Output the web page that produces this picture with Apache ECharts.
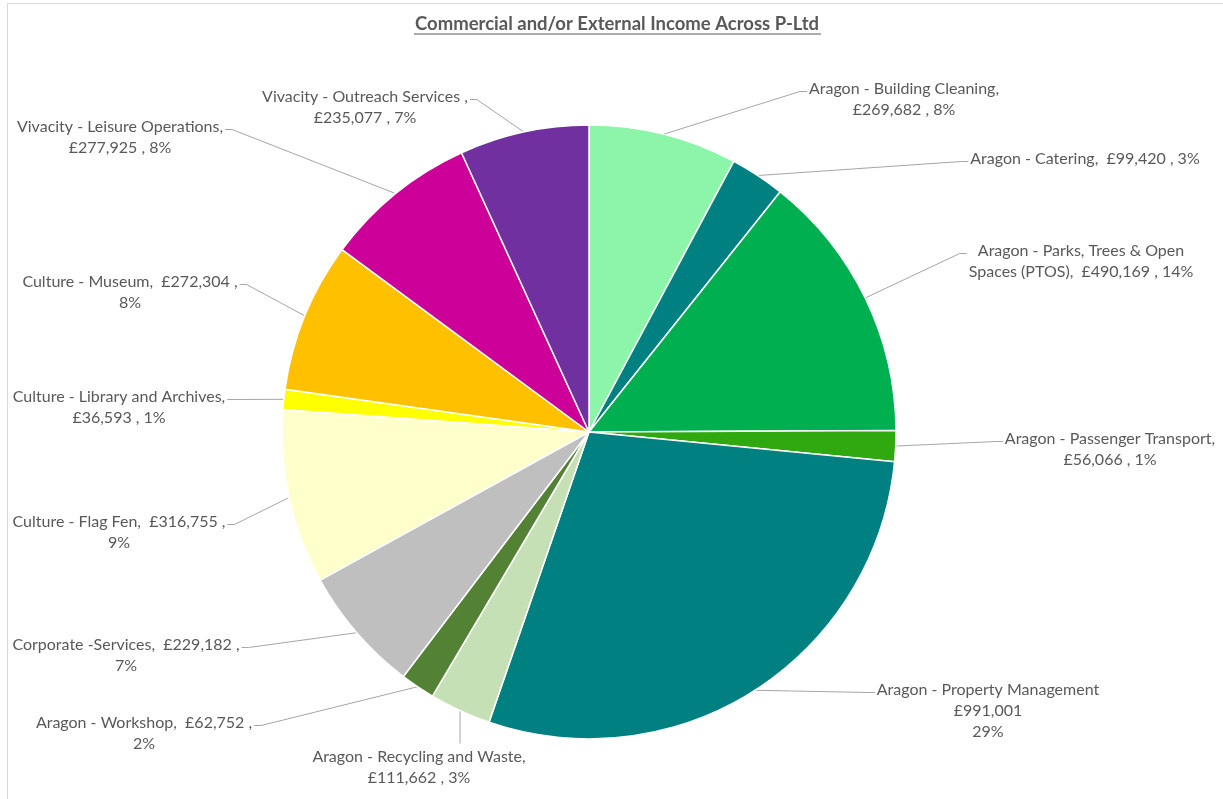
<!DOCTYPE html>
<html>
<head>
<meta charset="utf-8">
<script src="https://cdn.jsdelivr.net/npm/echarts@6/dist/echarts.min.js"></script>
<style>
html,body{margin:0;padding:0;background:#fff;}
#chart{width:1223px;height:799px;}
</style>
</head>
<body>
<div id="chart"></div>
<script>
// ---- data ----
const categories = [
  'Aragon - Building Cleaning',
  'Aragon - Catering',
  'Aragon - Parks, Trees & Open Spaces (PTOS)',
  'Aragon - Passenger Transport',
  'Aragon - Property Management',
  'Aragon - Recycling and Waste',
  'Aragon - Workshop',
  'Corporate -Services',
  'Culture - Flag Fen',
  'Culture - Library and Archives',
  'Culture - Museum',
  'Vivacity - Leisure Operations',
  'Vivacity - Outreach Services '
];
const values = [269682, 99420, 490169, 56066, 991001, 111662, 62752, 229182, 316755, 36593, 272304, 277925, 235077];
const pctLabels = [8, 3, 14, 1, 29, 3, 2, 7, 9, 1, 8, 8, 7];

// ---- styling / layout (not data) ----
const colors = ['#8DF5A9', '#008080', '#00B050', '#30A810', '#008080', '#C5E0B4', '#548235',
  '#BFBFBF', '#FFFFCC', '#FFFF00', '#FFC000', '#CC0099', '#7030A0'];
// label block: centre x, first-line centre y, side, wrap style
const labelLayoutCfg = [
  [904, 89, 'r', 'nv'],
  [1085, 159, 'r', 'one'],
  [1081, 251, 'r', 'w2'],
  [1110, 439, 'r', 'nv'],
  [988, 690, 'r', 'three'],
  [419, 757, 'b', 'nv'],
  [144, 723, 'l', 'p'],
  [126, 645, 'l', 'p'],
  [119, 522, 'l', 'p'],
  [119, 397, 'l', 'nv'],
  [130, 282, 'l', 'p'],
  [120, 127, 'l', 'nv'],
  [365, 97, 'l', 'nv']
];
const FONT = 'Lato';
const LABEL_COLOR = '#595959';
const LH = 21;

function fmtMoney(v) { return '£' + v.toLocaleString('en-GB'); }

function labelText(i) {
  const name = categories[i];
  const money = fmtMoney(values[i]);
  const pct = pctLabels[i] + '%';
  const style = labelLayoutCfg[i][3];
  if (style === 'nv') return name + ',\n' + money + ' , ' + pct;
  if (style === 'one') return name + ',  ' + money + ' , ' + pct;
  if (style === 'p') return name + ',  ' + money + ' ,\n' + pct;
  if (style === 'three') return name + '\n' + money + '\n' + pct;
  if (style === 'w2') {
    const words = name.split(' ');
    return words.slice(0, words.length - 2).join(' ') + '\n' +
      words.slice(words.length - 2).join(' ') + ',  ' + money + ' , ' + pct;
  }
  return name;
}

const chart = echarts.init(document.getElementById('chart'), null, {renderer: 'canvas'});

const seriesData = categories.map((c, i) => ({
  name: c,
  value: values[i],
  itemStyle: {color: colors[i]}
}));

const option = {
  animation: false,
  backgroundColor: '#ffffff',
  title: {
    text: 'Commercial and/or External Income Across P-Ltd',
    left: 410,
    top: 10,
    textStyle: {fontFamily: FONT, fontWeight: 'bold', fontSize: 18.5, color: LABEL_COLOR}
  },
  graphic: [
    {type: 'rect', shape: {x: 7.5, y: 3.5, width: 1400, height: 1000}, style: {fill: 'none', stroke: '#D9D9D9', lineWidth: 1}, silent: true},
    {type: 'line', shape: {x1: 414, y1: 34, x2: 821, y2: 34}, style: {stroke: LABEL_COLOR, lineWidth: 1.2}, silent: true}
  ],
  series: [{
    type: 'pie',
    center: [589, 432],
    radius: 307,
    startAngle: 90,
    clockwise: true,
    avoidLabelOverlap: false,
    data: seriesData,
    itemStyle: {borderColor: '#ffffff', borderWidth: 1.5},
    label: {
      show: true,
      position: 'outside',
      formatter: (p) => labelText(p.dataIndex),
      fontFamily: FONT,
      fontSize: 16,
      lineHeight: LH,
      color: LABEL_COLOR,
      align: 'center'
    },
    labelLine: {
      show: true,
      length: 10,
      length2: 10,
      lineStyle: {color: '#A6A6A6', width: 1}
    },
    labelLayout: function (params) {
      const i = params.dataIndex;
      const L = labelLayoutCfg[i];
      const w = params.labelRect.width;
      const top = L[1] - LH / 2;
      let p0 = params.labelLinePoints && params.labelLinePoints[0];
      let pts;
      if (L[2] === 'r') {
        const ex = L[0] - w / 2 - 2, ey = top + 13;
        pts = [p0, [ex - 7, ey], [ex, ey]];
      } else if (L[2] === 'l') {
        const ex = L[0] + w / 2 + 2, ey = top + 13;
        pts = [p0, [ex + 7, ey], [ex, ey]];
      } else {
        pts = [p0, [p0[0], top - 3]];
      }
      return {
        x: L[0],
        y: top,
        align: 'center',
        verticalAlign: 'top',
        labelLinePoints: pts
      };
    }
  }]
};
chart.setOption(option);
</script>
</body>
</html>
